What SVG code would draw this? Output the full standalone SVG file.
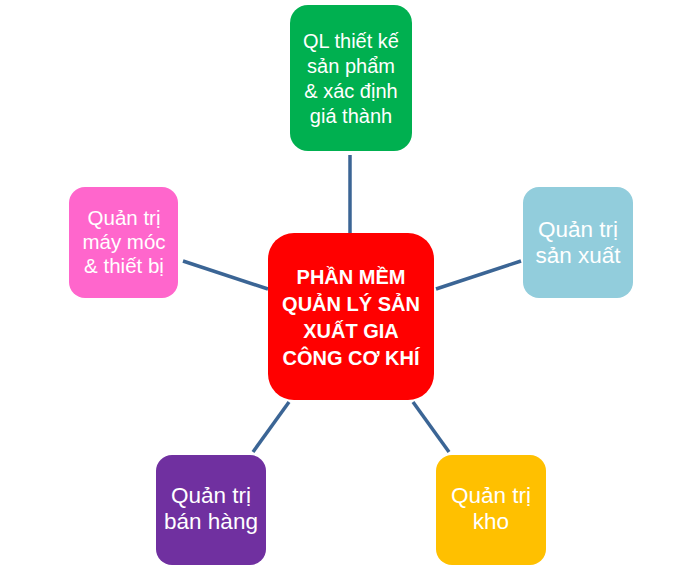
<svg xmlns="http://www.w3.org/2000/svg" width="700" height="576" viewBox="0 0 700 576">
<style>
.lbl{font-family:"Liberation Sans",Arial,sans-serif;fill:#fff;text-anchor:middle}
.b{font-weight:bold}
.conn line{stroke:#3B6595;stroke-width:3.5}
</style>
<rect width="700" height="576" fill="#fff"/>
<g class="conn" id="connectors">
<line x1="350" y1="155" x2="350" y2="233"/>
<line x1="183" y1="261" x2="268" y2="289"/>
<line x1="436" y1="289" x2="521" y2="261"/>
<line x1="289" y1="402" x2="253" y2="452"/>
<line x1="413" y1="402" x2="449" y2="452"/>
</g>
<g id="center">
<rect x="268" y="233" width="166" height="167" rx="26" fill="#FF0000"/>
<text class="lbl b" font-size="20"><tspan x="351" y="284">PHẦN MỀM</tspan><tspan x="351" y="311">QUẢN LÝ SẢN</tspan><tspan x="351" y="338">XUẤT GIA</tspan><tspan x="351" y="365">CÔNG CƠ KHÍ</tspan></text>
</g>
<g id="design">
<rect x="290" y="5" width="122" height="146" rx="18" fill="#00B050"/>
<text class="lbl" font-size="20"><tspan x="351" y="48">QL thiết kế</tspan><tspan x="351" y="73">sản phẩm</tspan><tspan x="351" y="98">&amp; xác định</tspan><tspan x="351" y="123">giá thành</tspan></text>
</g>
<g id="machines">
<rect x="69" y="187" width="109" height="111" rx="16" fill="#FF66CC"/>
<text class="lbl" font-size="20.5"><tspan x="124" y="225">Quản trị</tspan><tspan x="124" y="249">máy móc</tspan><tspan x="124" y="273">&amp; thiết bị</tspan></text>
</g>
<g id="production">
<rect x="523" y="187" width="110" height="111" rx="16" fill="#92CDDC"/>
<text class="lbl" font-size="22.5"><tspan x="578" y="237">Quản trị</tspan><tspan x="578" y="263">sản xuất</tspan></text>
</g>
<g id="sales">
<rect x="156" y="455" width="110" height="110" rx="16" fill="#7030A0"/>
<text class="lbl" font-size="22.5"><tspan x="211" y="503">Quản trị</tspan><tspan x="211" y="529">bán hàng</tspan></text>
</g>
<g id="warehouse">
<rect x="436" y="455" width="110" height="110" rx="16" fill="#FFC000"/>
<text class="lbl" font-size="22.5"><tspan x="491" y="503">Quản trị</tspan><tspan x="491" y="529">kho</tspan></text>
</g>
</svg>
